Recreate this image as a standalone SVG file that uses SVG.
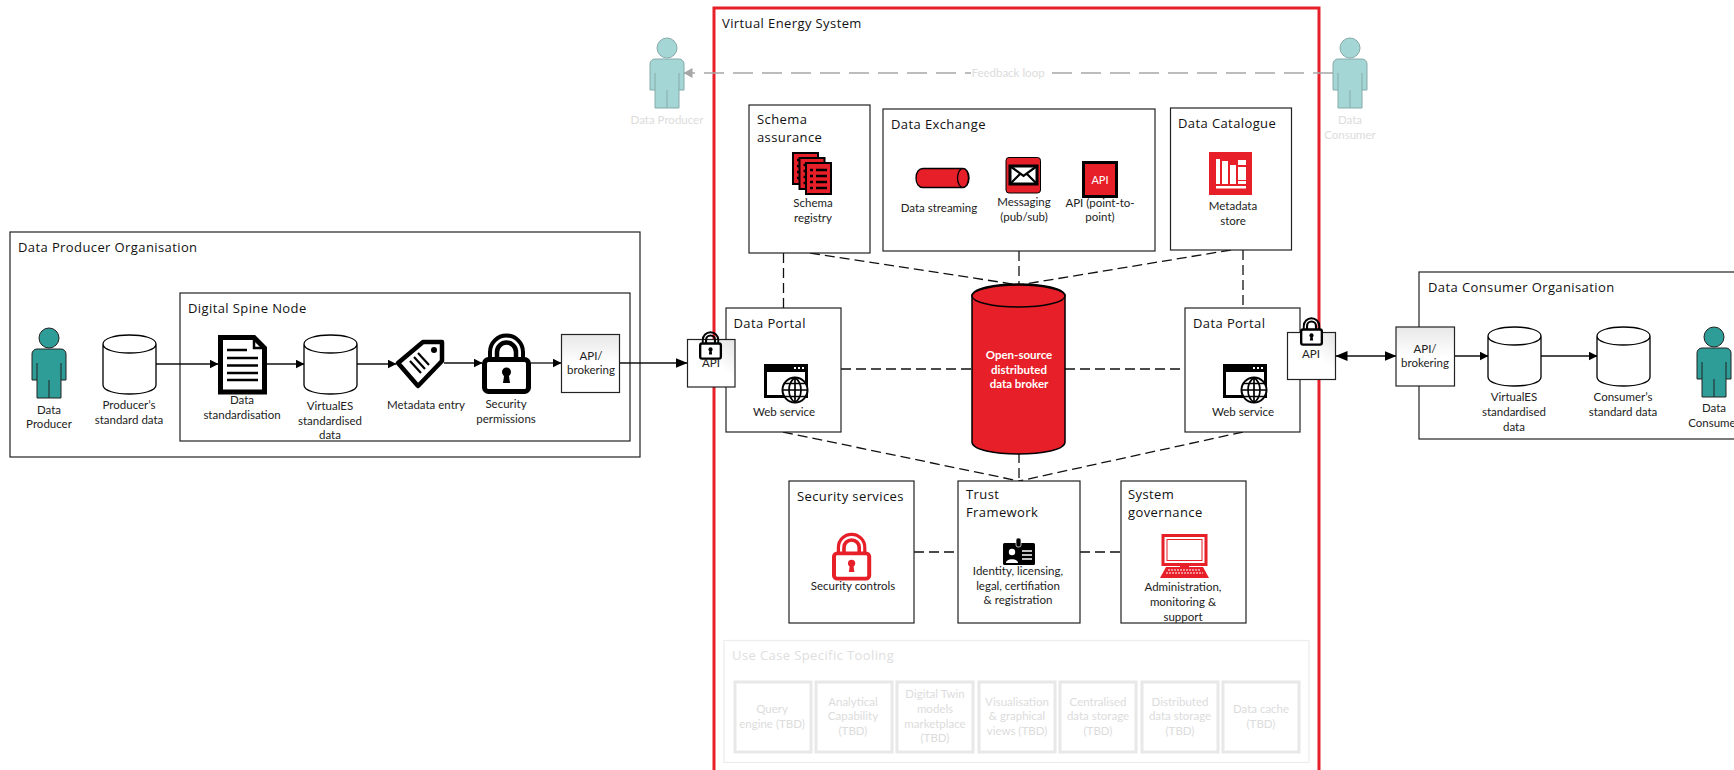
<svg xmlns="http://www.w3.org/2000/svg" width="1734" height="770" viewBox="0 0 1734 770">
<style>
text{font-family:Lato,"Open Sans","Liberation Sans",sans-serif;font-size:11.5px;fill:#222;text-anchor:middle}
.t{font-family:"Open Sans","Noto Sans","Liberation Sans",sans-serif;font-size:13px;letter-spacing:.4px;fill:#111;text-anchor:start}
.g{fill:#dcdcdc}
.gt{font-family:"Open Sans","Noto Sans",sans-serif;font-size:13px;letter-spacing:.4px;fill:#dedede;text-anchor:start}
.box{fill:#fff;stroke:#222;stroke-width:1.2}
.cyl{fill:#fff;stroke:#000;stroke-width:1.3}
.d{fill:none;stroke:#111;stroke-width:1.3;stroke-dasharray:10 5}
.s{fill:none;stroke:#111;stroke-width:1.3}
.tool{fill:#fff;stroke:#e8e8e8;stroke-width:3}
</style>
<defs>
<marker id="ah" markerUnits="userSpaceOnUse" markerWidth="9" markerHeight="9" refX="8.5" refY="4.5" orient="auto"><path d="M0 0L9 4.5L0 9Z" fill="#000"/></marker>
<marker id="ahs" markerUnits="userSpaceOnUse" markerWidth="12" markerHeight="10" refX="0.5" refY="5" orient="auto"><path d="M12 0L0 5L12 10Z" fill="#000"/></marker>
<marker id="ahe" markerUnits="userSpaceOnUse" markerWidth="12" markerHeight="10" refX="11.5" refY="5" orient="auto"><path d="M0 0L12 5L0 10Z" fill="#000"/></marker>
<marker id="ahg" markerUnits="userSpaceOnUse" markerWidth="9" markerHeight="10" refX="8.500" refY="5" orient="auto"><path d="M0 0L9 5L0 10Z" fill="#a6a6a6"/></marker>
<linearGradient id="gr" x1="1" y1="0" x2="0.3" y2="0.8"><stop offset="0" stop-color="#e4e4e4"/><stop offset="0.6" stop-color="#fff"/></linearGradient>
<linearGradient id="gt" x1="0" y1="0" x2="0" y2="1"><stop offset="0" stop-color="#e8e8e8"/><stop offset="0.5" stop-color="#fff"/></linearGradient>
<g id="person"><circle cx="0" cy="0" r="10"/><path d="M-17 16a5 5 0 0 1 5-5H12a5 5 0 0 1 5 5V42H12V60H-12V42H-17ZM-12 25V42M12 25V42M0 42V60"/></g>
<g id="lock">
<path d="M8 26V17a16.500 16.500 0 0 1 33 0V26" fill="none" stroke="currentColor" stroke-width="4"/>
<path d="M15 26V17a9.500 9.500 0 0 1 19 0V26" fill="none" stroke="currentColor" stroke-width="4.500"/>
<rect x="2.500" y="24.500" width="44" height="32" rx="4" fill="#fff" stroke="currentColor" stroke-width="5"/>
<circle cx="24.500" cy="37" r="4.500" fill="currentColor"/><path d="M22.500 38H26.500L28 48H21Z" fill="currentColor"/>
</g>
<g id="web">
<rect x="1.500" y="1.500" width="41" height="31" fill="#fff" stroke="#000" stroke-width="3"/><rect x="0" y="0" width="44" height="8" fill="#000"/>
<path d="M30 4h2M34 4h2M38 4h2" stroke="#fff" stroke-width="2"/>
<circle cx="31" cy="26" r="12.500" fill="#fff" stroke="#000" stroke-width="2"/>
<path d="M18.500 26H43.500M20.500 19.500H41.500M20.500 32.500H41.500M31 13.500V38.500M31 13.500C23 19 23 33 31 38.500M31 13.500C39 19 39 33 31 38.500" fill="none" stroke="#000" stroke-width="1.700"/>
</g>
<g id="page"><rect x="1" y="1" width="25" height="31" fill="#e71f28" stroke="#000" stroke-width="2"/><path d="M5 8h3M11 8h11M5 14h3M11 14h11M5 20h3M11 20h11M5 26h3M11 26h11" stroke="#000" stroke-width="2.400"/></g>
</defs>

<g id="producer-org"><rect class="box" x="10" y="232" width="630" height="225"/><text class="t" x="18" y="252">Data Producer Organisation</text></g>
<g id="spine-node"><rect class="box" x="180" y="293" width="450" height="148"/><text class="t" x="188" y="313">Digital Spine Node</text></g>
<g id="virtual-energy-system"><rect x="714" y="8" width="605" height="790" fill="none" stroke="#e71f28" stroke-width="3"/><text class="t" x="722" y="28">Virtual Energy System</text></g>
<g id="consumer-org"><rect class="box" x="1419" y="272" width="330" height="167"/><text class="t" x="1428" y="292">Data Consumer Organisation</text></g>

<g id="connectors">
<path class="d" d="M783.500 253V308M810 253L1019 285M1019 251V285M1231 250L1019 285M1243 250V308M841 369H972M1065 369H1185M1019 453V481M783 432L1019 481M1243 432L1019 481M914 552H958M1080 552H1121"/>
<path d="M1333 73H684" fill="none" stroke="#a6a6a6" stroke-width="1.300" stroke-dasharray="20 9" marker-end="url(#ahg)"/>
<path class="s" d="M156 364H218" marker-end="url(#ah)"/>
<path class="s" d="M267 364H304" marker-end="url(#ah)"/>
<path class="s" d="M357 364H396" marker-end="url(#ah)"/>
<path class="s" d="M444 363H482" marker-end="url(#ah)"/>
<path class="s" d="M531 363H561" marker-end="url(#ah)"/>
<path class="s" d="M620 363H687" marker-end="url(#ahe)"/>
<path class="s" d="M1336 356H1396" marker-start="url(#ahs)" marker-end="url(#ahe)"/>
<path class="s" d="M1454 356H1488" marker-end="url(#ah)"/>
<path class="s" d="M1541 356H1597" marker-end="url(#ah)"/>
</g>

<g id="feedback-label"><rect x="971" y="64" width="75" height="18" fill="#fff"/><text class="g" x="1008" y="77">Feedback loop</text></g>

<g id="data-producer-grey"><use href="#person" transform="translate(667 48)" fill="#a3d6d4" stroke="#8aa" stroke-width="1"/><text class="g" x="667" y="124">Data Producer</text></g>
<g id="data-consumer-grey"><use href="#person" transform="translate(1350 48)" fill="#a3d6d4" stroke="#8aa" stroke-width="1"/><text class="g" x="1350" y="124">Data</text><text class="g" x="1350" y="139">Consumer</text></g>

<g id="data-producer"><use href="#person" transform="translate(49 338)" fill="#2e9c97" stroke="#222" stroke-width="1"/><text x="49" y="414">Data</text><text x="49" y="428">Producer</text></g>
<g id="producers-data"><path class="cyl" d="M103 344V385C103 397 156 397 156 385V344C156 332 103 332 103 344C103 356 156 356 156 344"/><text x="129" y="409">Producer’s</text><text x="129" y="424">standard data</text></g>
<g id="data-standardisation"><path d="M220.500 337.500H254L264.500 348V392H220.500Z" fill="#fff" stroke="#000" stroke-width="5"/><path d="M254 337.500V348H264.500" fill="none" stroke="#000" stroke-width="2.500"/><path d="M227 350H247M227 358H258M227 365.500H258M227 373H258M227 380H258" stroke="#000" stroke-width="2.500"/><text x="242" y="404">Data</text><text x="242" y="419">standardisation</text></g>
<g id="virtuales-data"><path class="cyl" d="M304 344V385C304 397 357 397 357 385V344C357 332 304 332 304 344C304 356 357 356 357 344"/><text x="330" y="410">VirtualES</text><text x="330" y="425">standardised</text><text x="330" y="439">data</text></g>
<g id="metadata-entry"><path d="M398 363L423 342H442V361L418 386Z" fill="#fff" stroke="#000" stroke-width="4.500" stroke-linejoin="round"/><circle cx="434" cy="350" r="3" fill="#000"/><path d="M410 361L421 373M414 357L425 369M418 353L429 365" stroke="#000" stroke-width="2.200"/><text x="426" y="409">Metadata entry</text></g>
<g id="security-permissions"><use href="#lock" transform="translate(482 335)" color="#000"/><text x="506" y="408">Security</text><text x="506" y="423">permissions</text></g>
<g id="api-brokering-left"><rect x="561.500" y="334.500" width="58" height="58" fill="url(#gt)" stroke="#222" stroke-width="1.200"/><text x="591" y="360">API/</text><text x="591" y="374">brokering</text></g>

<g id="schema-assurance"><rect class="box" x="749" y="105" width="121" height="148"/><text class="t" x="757" y="124">Schema</text><text class="t" x="757" y="142">assurance</text>
<use href="#page" transform="translate(792 152)"/><use href="#page" transform="translate(798.500 157)"/><use href="#page" transform="translate(805 162)"/>
<text x="813" y="207">Schema</text><text x="813" y="222">registry</text></g>

<g id="data-exchange"><rect class="box" x="883" y="109" width="272" height="142"/><text class="t" x="891" y="129">Data Exchange</text>
<g id="stream-icon"><path d="M923 168.500H962C966 168.500 969 172 969 178S966 187.500 962 187.500H923C919 187.500 916 184 916 178S919 168.500 923 168.500Z" fill="#e71f28" stroke="#000" stroke-width="1.300"/><ellipse cx="963" cy="178" rx="5.500" ry="9.500" fill="#e71f28" stroke="#000" stroke-width="1.300"/></g>
<text x="939" y="212">Data streaming</text>
<g id="msg-icon"><rect x="1006" y="157.500" width="34.500" height="35.500" rx="3" fill="#e71f28" stroke="#000" stroke-width="1"/><rect x="1010" y="166" width="27" height="18" fill="#fff" stroke="#000" stroke-width="3"/><path d="M1010 166L1023.500 176L1037 166M1010 184L1020 174M1037 184L1027 174" fill="none" stroke="#000" stroke-width="2.200"/></g>
<text x="1024" y="206">Messaging</text><text x="1024" y="221">(pub/sub)</text>
<g id="api-icon"><rect x="1083.500" y="162.500" width="33" height="34" fill="#e71f28" stroke="#000" stroke-width="3"/><text x="1100" y="184" style="fill:#fff;font-size:11px">API</text></g>
<text x="1100" y="207">API (point-to-</text><text x="1100" y="221">point)</text></g>

<g id="data-catalogue"><rect class="box" x="1170.500" y="108" width="121" height="142"/><text class="t" x="1178" y="128">Data Catalogue</text>
<rect x="1209" y="152" width="43" height="43" fill="#e71f28"/><path d="M1216 159h4v25h-4ZM1222 161h6v23h-6ZM1230 165h6v19h-6ZM1238 160h8v5h-8ZM1238 167h8v13h-8ZM1238 181h8v3h-8ZM1216 186h30v2.500h-30Z" fill="#fff"/>
<text x="1233" y="210">Metadata</text><text x="1233" y="225">store</text></g>

<g id="data-portal-left"><rect class="box" x="726" y="308" width="115" height="124"/><text class="t" x="733.500" y="328">Data Portal</text><use href="#web" transform="translate(764 364)"/><text x="784" y="416">Web service</text></g>
<g id="api-left"><rect x="687.500" y="339.500" width="47.500" height="47.500" fill="url(#gr)" stroke="#222" stroke-width="1.200"/><use href="#lock" transform="translate(699 332) scale(0.47)" color="#000"/><text x="711" y="367">API</text></g>

<g id="data-broker"><path d="M972 296V442C972 458 1065 458 1065 442V296C1065 280 972 280 972 296Z" fill="#e71f28" stroke="#000" stroke-width="1.500"/><ellipse cx="1018.500" cy="296" rx="46.500" ry="11" fill="#e71f28" stroke="#000" stroke-width="1.500"/><text x="1019" y="359" style="fill:#fff;font-weight:700">Open-source</text><text x="1019" y="374" style="fill:#fff;font-weight:700">distributed</text><text x="1019" y="388" style="fill:#fff;font-weight:700">data broker</text></g>

<g id="data-portal-right"><rect class="box" x="1185" y="308" width="115" height="124"/><text class="t" x="1193" y="328">Data Portal</text><use href="#web" transform="translate(1223 364)"/><text x="1243" y="416">Web service</text></g>
<g id="api-right"><rect x="1287.500" y="332.500" width="48" height="47" fill="url(#gr)" stroke="#222" stroke-width="1.200"/><use href="#lock" transform="translate(1300 318) scale(0.47)" color="#000"/><text x="1311" y="358">API</text></g>

<g id="api-brokering-right"><rect x="1396" y="327" width="58.500" height="59" fill="url(#gt)" stroke="#222" stroke-width="1.200"/><text x="1425" y="353">API/</text><text x="1425" y="367">brokering</text></g>
<g id="virtuales-data-consumer"><path class="cyl" d="M1488 336V377C1488 389 1541 389 1541 377V336C1541 324 1488 324 1488 336C1488 348 1541 348 1541 336"/><text x="1514" y="401">VirtualES</text><text x="1514" y="416">standardised</text><text x="1514" y="431">data</text></g>
<g id="consumers-data"><path class="cyl" d="M1597 336V377C1597 389 1650 389 1650 377V336C1650 324 1597 324 1597 336C1597 348 1650 348 1650 336"/><text x="1623" y="401">Consumer’s</text><text x="1623" y="416">standard data</text></g>
<g id="data-consumer"><use href="#person" transform="translate(1714 337)" fill="#2e9c97" stroke="#222" stroke-width="1"/><text x="1714" y="412">Data</text><text x="1714" y="427">Consumer</text></g>

<g id="security-services"><rect class="box" x="789" y="481" width="125" height="142"/><text class="t" x="797" y="501">Security services</text><use href="#lock" transform="translate(832 534) scale(0.8 0.79)" color="#e71f28"/><text x="853" y="590">Security controls</text></g>
<g id="trust-framework"><rect class="box" x="958" y="481" width="122" height="142"/><text class="t" x="966" y="499">Trust</text><text class="t" x="966" y="517">Framework</text>
<rect x="1003" y="543" width="32" height="22" rx="1.500" fill="#000"/><rect x="1016" y="538" width="5" height="9" rx="2" fill="#000" stroke="#fff" stroke-width="0.700"/><circle cx="1012" cy="552" r="3.200" fill="#fff"/><path d="M1006 563c0-5 12-5 12 0Z" fill="#fff"/><path d="M1022 551h10M1022 555h10M1022 559h10" stroke="#fff" stroke-width="1.500"/>
<text x="1018" y="575">Identity, licensing,</text><text x="1018" y="590">legal, certifiation</text><text x="1018" y="604">&amp; registration</text></g>
<g id="system-governance"><rect class="box" x="1121" y="481" width="125" height="142"/><text class="t" x="1128" y="499">System</text><text class="t" x="1128" y="517">governance</text>
<rect x="1163" y="535.500" width="43" height="29" fill="#fff" stroke="#e71f28" stroke-width="3"/><rect x="1167" y="539.500" width="35" height="21" fill="#fff" stroke="#e71f28" stroke-width="1"/><path d="M1180 564h9v3h-9Z" fill="#e71f28"/><path d="M1166 567H1203L1209 578H1160Z" fill="#e71f28"/><path d="M1168 570H1201M1166 573H1203" stroke="#fff" stroke-width="1.200" stroke-dasharray="2 1"/>
<text x="1183" y="591">Administration,</text><text x="1183" y="606">monitoring &amp;</text><text x="1183" y="621">support</text></g>

<g id="use-case-tooling"><rect x="724" y="640.500" width="585" height="122" fill="#fff" stroke="#ececec" stroke-width="1.200"/><text class="gt" x="732" y="660">Use Case Specific Tooling</text>
<g id="tool-query"><rect class="tool" x="735" y="682" width="76" height="70"/><text class="g" x="772" y="713">Query</text><text class="g" x="772" y="728">engine (TBD)</text></g>
<g id="tool-analytical"><rect class="tool" x="816" y="682" width="76" height="70"/><text class="g" x="853" y="706">Analytical</text><text class="g" x="853" y="720">Capability</text><text class="g" x="853" y="735">(TBD)</text></g>
<g id="tool-twin"><rect class="tool" x="897" y="682" width="76" height="70"/><text class="g" x="935" y="698">Digital Twin</text><text class="g" x="935" y="713">models</text><text class="g" x="935" y="728">marketplace</text><text class="g" x="935" y="742">(TBD)</text></g>
<g id="tool-visual"><rect class="tool" x="979" y="682" width="76" height="70"/><text class="g" x="1017" y="706">Visualisation</text><text class="g" x="1017" y="720">&amp; graphical</text><text class="g" x="1017" y="735">views (TBD)</text></g>
<g id="tool-central"><rect class="tool" x="1060" y="682" width="76" height="70"/><text class="g" x="1098" y="706">Centralised</text><text class="g" x="1098" y="720">data storage</text><text class="g" x="1098" y="735">(TBD)</text></g>
<g id="tool-distributed"><rect class="tool" x="1142" y="682" width="76" height="70"/><text class="g" x="1180" y="706">Distributed</text><text class="g" x="1180" y="720">data storage</text><text class="g" x="1180" y="735">(TBD)</text></g>
<g id="tool-cache"><rect class="tool" x="1223" y="682" width="76" height="70"/><text class="g" x="1261" y="713">Data cache</text><text class="g" x="1261" y="728">(TBD)</text></g>
</g>
</svg>
